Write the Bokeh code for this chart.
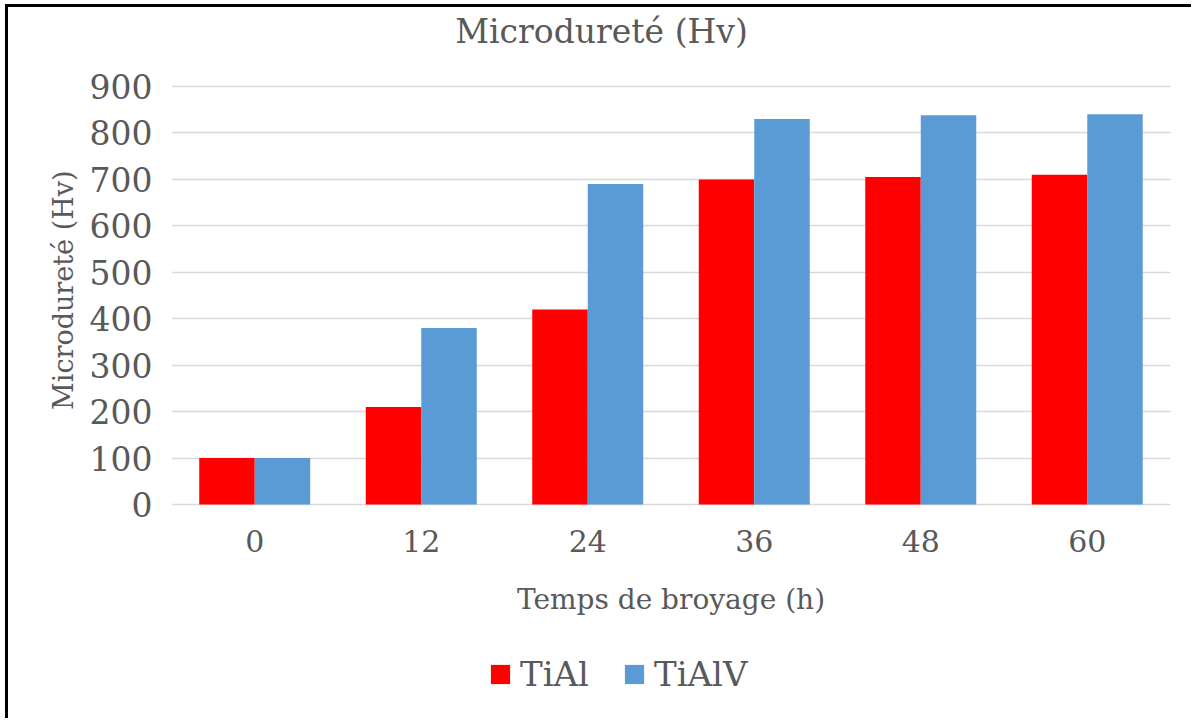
from bokeh.plotting import figure
from bokeh.models import Range1d, FactorRange, Legend, LegendItem, FixedTicker, Title, Label
from bokeh.transform import dodge
from bokeh.embed import file_html
from bokeh.resources import INLINE

# Milling time (h) and microhardness (Hv) for the two alloys
temps = ["0", "12", "24", "36", "48", "60"]
tial = [100, 210, 420, 700, 705, 710]
tialv = [100, 380, 690, 830, 838, 840]
y_ticks = [0, 100, 200, 300, 400, 500, 600, 700, 800, 900]

FONT = "DejaVu Serif"
TEXT = "#595959"
RED = "#FF0000"
BLUE = "#5B9BD5"

W, H = 1186, 714
FL, FR = 163, 1162          # frame left/right inside the canvas
Y0_PX, Y900_PX = 497, 79    # canvas rows of the 0 and 900 gridlines

# the frame spans the full canvas height; the value axis is scaled so that
# 0..900 occupies rows Y0_PX..Y900_PX and the space above/below holds the
# title, the category labels and the legend
px_per_unit = (Y0_PX - Y900_PX) / 900
y_end = 900 + Y900_PX / px_per_unit
y_start = -(H - Y0_PX) / px_per_unit

p = figure(
    width=W, height=H,
    x_range=FactorRange(*temps, range_padding=0),
    y_range=Range1d(y_start, y_end),
    output_backend="svg", toolbar_location=None,
    min_border_left=FL, min_border_right=W - FR,
    min_border_top=0, min_border_bottom=0,
)
p.styles = {"margin-left": "5px", "margin-top": "4px",
            "border-left": "3px solid #000", "border-top": "3px solid #000"}
p.outline_line_color = None
p.background_fill_color = "white"
p.border_fill_color = "white"

src = dict(t=temps, a=tial, b=tialv)
r1 = p.vbar(x=dodge("t", -1/6, range=p.x_range), top="a", width=1/3, bottom=0,
            source=src, fill_color=RED, line_color=None)
r2 = p.vbar(x=dodge("t", 1/6, range=p.x_range), top="b", width=1/3, bottom=0,
            source=src, fill_color=BLUE, line_color=None)

# axes
p.yaxis.ticker = FixedTicker(ticks=y_ticks)
p.xaxis.fixed_location = 0
for ax in (p.xaxis[0], p.yaxis[0]):
    ax.axis_line_color = None
    ax.major_tick_line_color = None
    ax.minor_tick_line_color = None
    ax.major_tick_out = 0
    ax.major_tick_in = 0
    ax.major_label_text_font = FONT
    ax.major_label_text_color = TEXT
    ax.axis_label_text_font = FONT
    ax.axis_label_text_color = TEXT
    ax.axis_label_text_font_style = "normal"
p.yaxis.major_label_text_font_size = "33px"
p.yaxis.major_label_standoff = 19
p.xaxis.major_label_text_font_size = "30px"
p.xaxis.major_label_standoff = 25
p.xaxis.axis_label = "Temps de broyage (h)"
p.xaxis.axis_label_text_font_size = "28px"
p.xaxis.axis_label_standoff = 28

p.xgrid.grid_line_color = None
p.ygrid.grid_line_color = "#D9D9D9"
p.ygrid.grid_line_width = 1.5

# value-axis title; its upper end is placed 163 px below the canvas top
y_title = Title(
    text="Microdureté (Hv)", align="right", offset=163,
    text_font=FONT, text_font_size="27px", text_color=TEXT,
    text_font_style="normal", standoff=16,
)
p.add_layout(y_title, "left")

# chart title, centred on the whole canvas
px_per_cat = (FR - FL) / len(temps)
p.add_layout(Label(
    x=(W / 2 - FL) / px_per_cat, y=y_end - 24 / px_per_unit,
    text="Microdureté (Hv)", text_font=FONT, text_font_size="33px",
    text_color=TEXT, text_align="center", text_baseline="middle",
))

legend = Legend(
    items=[LegendItem(label="TiAl", renderers=[r1]),
           LegendItem(label="TiAlV", renderers=[r2])],
    orientation="horizontal", location=(480 - FL, 27),
    label_text_font=FONT, label_text_font_size="34px", label_text_color=TEXT,
    glyph_width=24, glyph_height=24, label_standoff=8, spacing=33,
    padding=0, margin=0, border_line_color=None, background_fill_alpha=0,
)
p.add_layout(legend, "center")

open("out.html", "w").write(file_html(p, INLINE))
